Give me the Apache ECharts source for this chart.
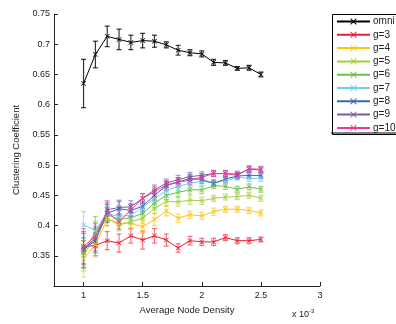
<!DOCTYPE html>
<html><head><meta charset="utf-8">
<script src="https://cdn.jsdelivr.net/npm/echarts@6/dist/echarts.min.js"></script>
<style>html,body{margin:0;padding:0;background:#fff}#c{width:396px;height:324px}</style>
</head><body><div id="c"></div>
<script>
const xVals = [1.0,1.1,1.2,1.3,1.4,1.5,1.6,1.7,1.8,1.9,2.0,2.1,2.2,2.3,2.4,2.5];
const xTicks = [1,1.5,2,2.5,3];
const yTicks = [0.35,0.4,0.45,0.5,0.55,0.6,0.65,0.7,0.75];
const seriesNames = ['omni','g=3','g=4','g=5','g=6','g=7','g=8','g=9','g=10'];
const omni = [0.635,0.683,0.713,0.708,0.703,0.706,0.705,0.699,0.690,0.686,0.684,0.670,0.669,0.660,0.661,0.650];
const omniErr = [0.04,0.022,0.017,0.017,0.012,0.012,0.010,0.005,0.008,0.005,0.005,0.005,0.004,0.003,0.004,0.004];
const g3 = [0.365,0.367,0.375,0.371,0.383,0.376,0.383,0.376,0.363,0.375,0.373,0.373,0.380,0.375,0.375,0.377];
const g3Err = [0.010,0.017,0.015,0.015,0.012,0.015,0.012,0.010,0.007,0.007,0.006,0.006,0.005,0.005,0.005,0.004];
const g4 = [0.345,0.368,0.411,0.404,0.404,0.398,0.410,0.424,0.412,0.418,0.416,0.423,0.427,0.427,0.425,0.421];
const g4Err = [0.030,0.020,0.012,0.010,0.010,0.010,0.010,0.008,0.007,0.006,0.006,0.006,0.005,0.005,0.005,0.005];
const g5 = [0.350,0.385,0.412,0.401,0.406,0.412,0.428,0.440,0.439,0.442,0.441,0.445,0.447,0.448,0.450,0.445];
const g5Err = [0.025,0.020,0.012,0.010,0.010,0.008,0.008,0.007,0.007,0.007,0.006,0.005,0.005,0.005,0.005,0.005];
const g6 = [0.355,0.390,0.418,0.410,0.413,0.420,0.437,0.450,0.455,0.459,0.459,0.466,0.465,0.460,0.464,0.460];
const g6Err = [0.025,0.025,0.012,0.010,0.010,0.008,0.008,0.007,0.007,0.007,0.006,0.005,0.005,0.005,0.005,0.005];
const g7 = [0.401,0.392,0.420,0.415,0.417,0.430,0.445,0.458,0.465,0.470,0.473,0.471,0.474,0.480,0.478,0.478];
const g7Err = [0.022,0.015,0.012,0.010,0.010,0.008,0.008,0.007,0.007,0.007,0.006,0.005,0.005,0.005,0.005,0.005];
const g8 = [0.360,0.375,0.420,0.428,0.425,0.432,0.450,0.466,0.472,0.478,0.476,0.470,0.477,0.482,0.483,0.483];
const g8Err = [0.030,0.020,0.015,0.012,0.010,0.008,0.008,0.007,0.007,0.007,0.006,0.005,0.005,0.005,0.005,0.005];
const g9 = [0.362,0.378,0.426,0.430,0.431,0.445,0.459,0.470,0.476,0.481,0.483,0.486,0.486,0.485,0.493,0.492];
const g9Err = [0.025,0.020,0.015,0.012,0.010,0.008,0.008,0.007,0.007,0.007,0.006,0.005,0.005,0.005,0.005,0.005];
const g10 = [0.365,0.383,0.423,0.406,0.426,0.445,0.456,0.467,0.472,0.475,0.480,0.486,0.486,0.483,0.494,0.493];
const g10Err = [0.030,0.020,0.015,0.012,0.010,0.008,0.008,0.007,0.007,0.007,0.006,0.005,0.005,0.005,0.005,0.005];

const allVals = [omni,g3,g4,g5,g6,g7,g8,g9,g10];
const allErr = [omniErr,g3Err,g4Err,g5Err,g6Err,g7Err,g8Err,g9Err,g10Err];
const colors = ['#000000','#ED1C2E','#FFC20E','#A6CE39','#6CBE45','#6DCFF6','#3F64B0','#7A5BA6','#EC3A96'];
const xMark = 'path://M0,1 L1,0 L5,4 L9,0 L10,1 L6,5 L10,9 L9,10 L5,6 L1,10 L0,9 L4,5 Z';
const font = 'Liberation Sans, Arial, Helvetica, sans-serif';

const series = [];
allVals.forEach((vals, i) => {
  const c = colors[i];
  series.push({
    type: 'custom', silent: true, z: 2,
    data: xVals.map((x, k) => [x, vals[k] - allErr[i][k], vals[k] + allErr[i][k]]),
    encode: {x: 0, y: [1, 2]},
    renderItem: function (params, api) {
      const lo = api.coord([api.value(0), api.value(1)]);
      const hi = api.coord([api.value(0), api.value(2)]);
      const w = 2.5;
      const st = {stroke: c, lineWidth: 1.2, opacity: i === 0 ? 0.8 : 0.6};
      return {type: 'group', children: [
        {type: 'line', shape: {x1: lo[0], y1: lo[1], x2: hi[0], y2: hi[1]}, style: st},
        {type: 'line', shape: {x1: lo[0]-w, y1: lo[1], x2: lo[0]+w, y2: lo[1]}, style: st},
        {type: 'line', shape: {x1: hi[0]-w, y1: hi[1], x2: hi[0]+w, y2: hi[1]}, style: st}
      ]};
    }
  });
  series.push({
    name: seriesNames[i], type: 'line', z: 3,
    data: xVals.map((x, k) => [x, vals[k]]),
    symbol: xMark, symbolSize: 5, showAllSymbol: true,
    lineStyle: {color: c, width: 1},
    itemStyle: {color: c},
    emphasis: {disabled: true}, animation: false
  });
});

const chart = echarts.init(document.getElementById('c'), null, {renderer: 'canvas'});
chart.setOption({
  animation: false,
  backgroundColor: '#fff',
  grid: {left: 54, top: 14, width: 266, height: 272, containLabel: false},
  xAxis: {
    type: 'value', min: 0.75, max: 3,
    name: 'Average Node Density', nameLocation: 'middle', nameGap: 16,
    nameTextStyle: {fontFamily: font, fontSize: 9.5, color: '#222'},
    axisLine: {show: true, lineStyle: {color: '#222', width: 1}},
    axisTick: {show: true, inside: true, length: 4, customValues: xTicks, lineStyle: {color: '#222'}},
    axisLabel: {show: true, customValues: xTicks, fontFamily: font, fontSize: 9, color: '#222', margin: 5,
      formatter: v => String(v)},
    splitLine: {show: false}
  },
  yAxis: {
    type: 'value', min: 0.3, max: 0.75,
    name: 'Clustering Coefficient', nameLocation: 'middle', nameGap: 29, nameRotate: 90,
    nameTextStyle: {fontFamily: font, fontSize: 9.5, color: '#222'},
    axisLine: {show: true, lineStyle: {color: '#222', width: 1}},
    axisTick: {show: true, inside: true, length: 4, customValues: yTicks, lineStyle: {color: '#222'}},
    axisLabel: {show: true, customValues: yTicks, fontFamily: font, fontSize: 9, color: '#222', margin: 4,
      formatter: v => String(+v.toFixed(2))},
    splitLine: {show: false}
  },
  legend: {
    orient: 'vertical', left: 336, top: 16, padding: [0,0,0,0],
    data: seriesNames,
    itemWidth: 33, itemHeight: 8, itemGap: 2.3,
    textStyle: {fontFamily: font, fontSize: 10, color: '#222', lineHeight: 11, padding: [0,0,0,-2]},
    selectedMode: false
  },
  graphic: [
    {type: 'rect', left: 330, top: 12, shape: {width: 80, height: 120},
      style: {fill: 'none', stroke: '#000', lineWidth: 1}, z: -1},
    {type: 'line', shape: {x1: 331, y1: 133, x2: 400, y2: 133}, style: {stroke: '#000', lineWidth: 1.2}},
    {type: 'text', left: 292, top: 308, style: {
      text: '{a|x 10}{b|-3}', fontFamily: font,
      rich: {a: {fontSize: 9, fill: '#222', fontFamily: font}, b: {fontSize: 6, fill: '#222', fontFamily: font, padding: [0,0,7,0]}}
    }}
  ],
  series: series
});
</script></body></html>
